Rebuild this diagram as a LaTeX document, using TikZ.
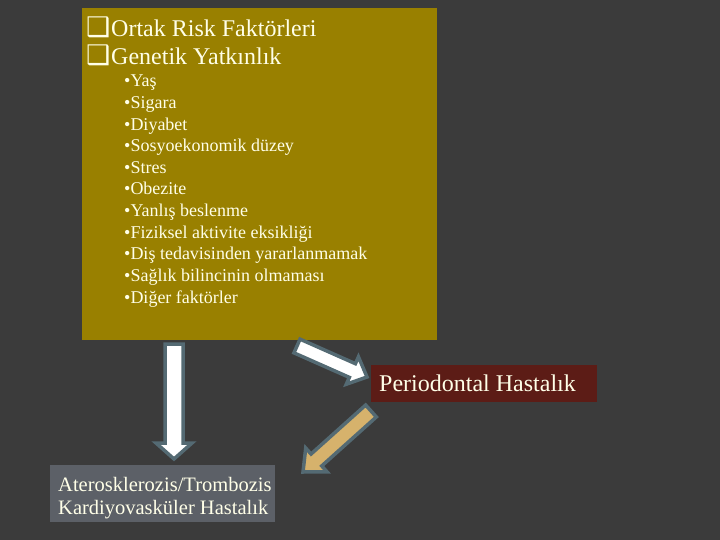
\documentclass[tikz,border=0pt]{standalone}
\usepackage{fontspec}
\setmainfont{Liberation Serif}
\newfontfamily\symfont{DejaVu Sans}
\usetikzlibrary{calc}
\definecolor{bgc}{RGB}{59,59,59}
\definecolor{olive}{RGB}{153,128,0}
\definecolor{cream}{RGB}{255,255,232}
\definecolor{dred}{RGB}{92,28,22}
\definecolor{gbox}{RGB}{92,96,103}
\definecolor{aline}{RGB}{84,106,115}
\definecolor{tan}{RGB}{214,178,108}
\tikzset{
  txt/.style={text=cream, inner sep=0pt, anchor=base west},
  bul/.style={txt, font=\fontsize{18}{21}\selectfont},
  arr/.style={draw=aline, line width=3.5pt, line join=miter},
}
\newcommand\blockarrow[6]{%
  \path ($(#2)!#5!(#1)$) coordinate (h@);
  \filldraw[#6] ($(#1)!#3!90:(#2)$) -- ($(h@)!#3!90:(#2)$) -- ($(h@)!#4!90:(#2)$) -- (#2)
    -- ($(h@)!#4!-90:(#2)$) -- ($(h@)!#3!-90:(#2)$) -- ($(#1)!#3!-90:(#2)$) -- cycle;}
\begin{document}
\begin{tikzpicture}[x=1pt,y=-1pt]
\fill[bgc] (0,0) rectangle (720,540);
\useasboundingbox (0,0) rectangle (720,540);
% main box
\node[fill=olive, minimum width=355pt, minimum height=332pt, inner sep=0pt, anchor=north west] (main) at (82,8) {};
\node[txt, font=\symfont\fontsize{27}{30}\selectfont] (c1) at (86,37) {❑};
\node[txt, font=\fontsize{24}{28}\selectfont] (t1) at (111,37) {Ortak Risk Faktörleri};
\node[txt, font=\symfont\fontsize{27}{30}\selectfont] (c2) at (86,65) {❑};
\node[txt, font=\fontsize{24}{28}\selectfont] (t2) at (111,65) {Genetik Yatkınlık};
\foreach \t [count=\i] in {Yaş,Sigara,Diyabet,Sosyoekonomik düzey,Stres,Obezite,Yanlış beslenme,Fiziksel aktivite eksikliği,Diş tedavisinden yararlanmamak,Sağlık bilincinin olmaması,Diğer faktörler}{
  \node[bul] (b\i) at (124,{87+21.6*(\i-1)}) {•\t};
}
% periodontal box
\node[fill=dred, minimum width=226pt, minimum height=37pt, inner sep=0pt, anchor=north west] (per) at (371,365) {};
\node[txt, font=\fontsize{24}{28}\selectfont] (pert) at (379,391) {Periodontal Hastalık};
% bottom box
\node[fill=gbox, minimum width=225pt, minimum height=57pt, inner sep=0pt, anchor=north west] (kv) at (50,465) {};
\node[txt, font=\fontsize{20.5}{23}\selectfont] (kvt1) at (58,491) {Aterosklerozis/Trombozis};
\node[txt, font=\fontsize{20.5}{23}\selectfont] (kvt2) at (58,514) {Kardiyovasküler Hastalık};
% arrows
\coordinate (a1s) at (174,344);
\coordinate (a1e) at (174,459);
\blockarrow{a1s}{a1e}{9pt}{18pt}{16pt}{arr, fill=white}
\coordinate (a2s) at (297,346);
\coordinate (a2e) at (367,377);
\blockarrow{a2s}{a2e}{7.5pt}{15pt}{16pt}{arr, fill=white}
\coordinate (a3s) at (371,411);
\coordinate (a3e) at (303,472);
\blockarrow{a3s}{a3e}{8pt}{16pt}{18pt}{arr, fill=tan}
\end{tikzpicture}
\end{document}
